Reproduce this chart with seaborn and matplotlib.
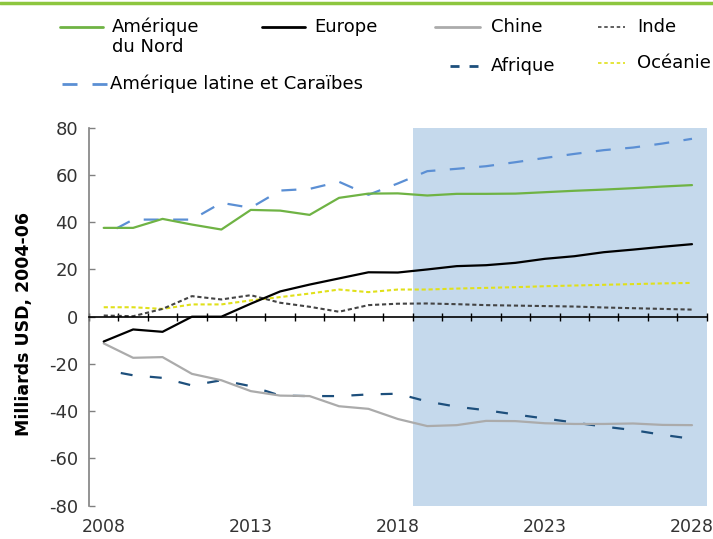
import matplotlib
matplotlib.use("Agg")
import matplotlib.pyplot as plt
from matplotlib.lines import Line2D
import seaborn as sns

# Données (milliards USD, 2004-06)
years = list(range(2008, 2029))
amerique_nord = [37.6, 37.6, 41.4, 39.0, 36.9, 45.2, 44.9, 43.1, 50.3, 52.1, 52.2,
                 51.3, 52.0, 52.0, 52.1, 52.7, 53.3, 53.8, 54.4, 55.1, 55.7]
amerique_latine = [34.5, 41.1, 41.1, 41.1, 48.2, 46.1, 53.4, 54.1, 57.1, 51.6, 56.4,
                   61.6, 62.6, 63.7, 65.4, 67.2, 68.9, 70.5, 71.6, 73.3, 75.3]
europe = [-10.5, -5.4, -6.4, 0.0, 0.0, 5.5, 10.7, 13.6, 16.2, 18.8, 18.7,
          20.0, 21.4, 21.8, 22.8, 24.5, 25.6, 27.3, 28.4, 29.6, 30.7]
chine = [-11.3, -17.4, -17.1, -24.2, -26.9, -31.5, -33.4, -33.6, -37.9, -39.0, -43.3,
         -46.3, -45.9, -44.1, -44.2, -45.1, -45.4, -45.4, -45.2, -45.8, -45.9]
afrique = [-22.5, -24.8, -25.9, -29.1, -26.9, -29.4, -33.4, -33.6, -33.6, -32.9, -32.6,
           -35.9, -38.1, -39.6, -41.4, -43.1, -44.8, -46.5, -48.0, -50.0, -51.7]
inde = [0.5, 0.2, 3.3, 8.7, 7.3, 9.1, 5.9, 4.2, 2.1, 4.9, 5.5,
        5.6, 5.3, 4.9, 4.7, 4.5, 4.3, 3.9, 3.6, 3.3, 3.0]
oceanie = [4.0, 4.0, 3.3, 5.2, 5.2, 6.9, 8.3, 9.8, 11.5, 10.4, 11.5,
           11.5, 11.9, 12.2, 12.5, 12.9, 13.2, 13.5, 13.8, 14.1, 14.3]

projection_start = 2018.5
xtick_labels = [2008, 2013, 2018, 2023, 2028]

sns.set_style("ticks")
plt.rcParams['font.family'] = ['DejaVu Sans']
plt.rcParams['axes.unicode_minus'] = False
plt.rcParams['lines.scale_dashes'] = False

GREEN = '#6fb344'
LATAM = '#5b8fd4'
NAVY = '#1d4f7c'
GREY = '#ababab'
DARK = '#444444'
YELLOW = '#e0e01a'

# (valeurs, libellé, couleur, style, épaisseur)
series = [
    (amerique_latine, 'Amérique latine et Caraïbes', LATAM, (10.8, (10.8, 10.4)), 1.6),
    (afrique, 'Afrique', NAVY, (8.6, (8.6, 12.5)), 1.6),
    (chine, 'Chine', GREY, '-', 1.6),
    (oceanie, 'Océanie', YELLOW, (0, (3.0, 2.0)), 1.5),
    (inde, 'Inde', DARK, (0, (3.0, 2.0)), 1.5),
    (amerique_nord, 'Amérique du Nord', GREEN, '-', 1.6),
    (europe, 'Europe', 'black', '-', 1.6),
]

W, H = 713, 539
fig = plt.figure(figsize=(W / 100, H / 100), dpi=100)
ax = fig.add_axes([89 / W, 1 - 505.7 / H, 617.7 / W, 378 / H])

ax.axvspan(projection_start, 2028.5, color='#c5d9ec', lw=0, zorder=0)

for vals, label, color, ls, lw in series:
    sns.lineplot(x=years, y=vals, ax=ax, color=color, linestyle=ls, linewidth=lw)

ax.set_xlim(2007.5, 2028.5)
ax.set_ylim(-80, 80)
ax.set_yticks(range(-80, 81, 20))

ax.spines['top'].set_visible(False)
ax.spines['right'].set_visible(False)
ax.spines['bottom'].set_position(('data', 0))
ax.spines['bottom'].set_color('black')
ax.spines['bottom'].set_linewidth(1.2)
ax.spines['bottom'].set_zorder(3)
ax.spines['left'].set_color('#808080')
ax.spines['left'].set_linewidth(1.2)

ax.set_xticks([y + 0.5 for y in range(2007, 2029)])
ax.tick_params(axis='x', direction='inout', length=6, width=1, color='black',
               labelbottom=False)
ax.tick_params(axis='y', direction='in', length=4.5, width=1, color='#808080',
               labelsize=13, labelcolor='#333333', pad=8)

sec = ax.secondary_xaxis('bottom')
sec.set_xticks(xtick_labels)
sec.tick_params(length=0, labelsize=12.5, labelcolor='#333333', pad=9)
sec.spines['bottom'].set_visible(False)

ax.set_ylabel('Milliards USD, 2004-06', fontsize=12.5, fontweight='bold', color='black')
ax.yaxis.set_label_coords(-0.09, 0.48)

# filet vert en haut
fig.add_artist(Line2D([0, 1], [1 - 3 / H] * 2, transform=fig.transFigure,
                      color='#8dc63f', lw=2.5))


def legend_item(x0, x1, y, color, ls, lw, label, tx, ty=None):
    fy = 1 - y / H
    fig.add_artist(Line2D([x0 / W, x1 / W], [fy, fy], transform=fig.transFigure,
                          color=color, linestyle=ls, linewidth=lw))
    fig.text(tx / W, 1 - (ty if ty is not None else y) / H, label, ha='left',
             va='center', fontsize=13, color='black', linespacing=1.15)


legend_item(60, 103, 27, GREEN, '-', 2, 'Amérique\ndu Nord', 112, 37)
legend_item(262, 305, 27, 'black', '-', 2, 'Europe', 314)
legend_item(435, 480, 27, GREY, '-', 2, 'Chine', 491)
legend_item(598, 625, 27, DARK, (0, (2.5, 2.0)), 1.2, 'Inde', 637)
legend_item(450, 478, 66, NAVY, (0, (6.5, 7.2)), 2, 'Afrique', 491)
legend_item(598, 625, 63, YELLOW, (0, (2.5, 2.0)), 1.2, 'Océanie', 637)
legend_item(62, 107, 84, LATAM, (0, (10.8, 10.8)), 2, 'Amérique latine et Caraïbes', 110)

plt.savefig('out.png', dpi=100)
